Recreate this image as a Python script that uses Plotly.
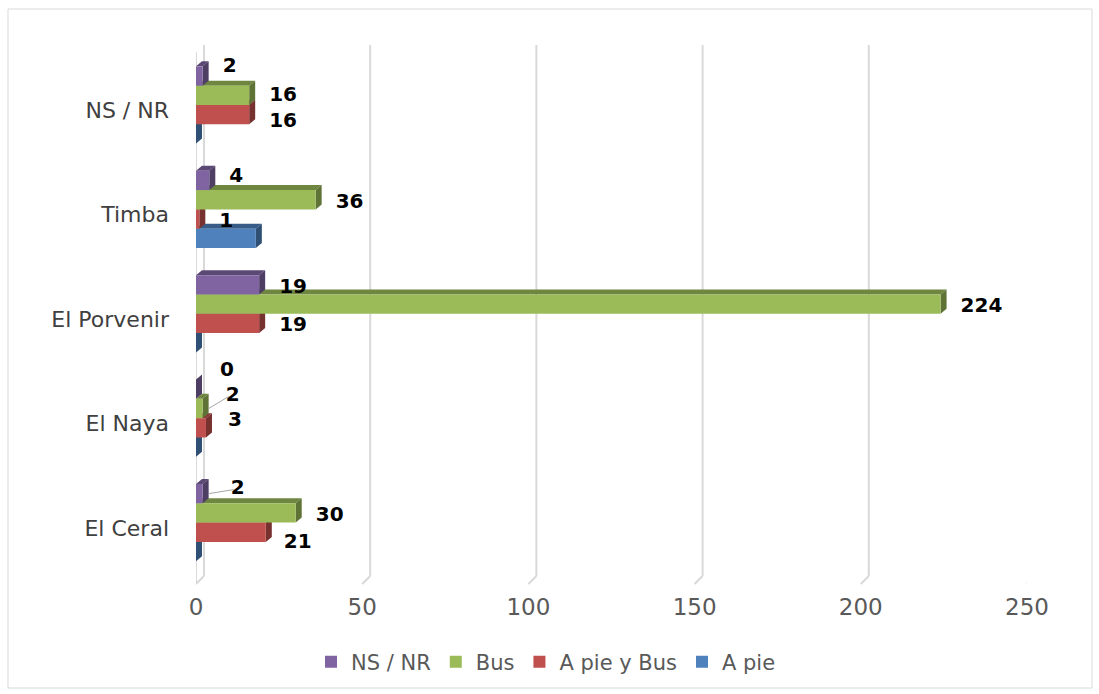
import plotly.graph_objects as go

# Survey data: transport mode by locality
categories = ["El Ceral", "El Naya", "El Porvenir", "Timba", "NS / NR"]
a_pie = [0, 0, 0, 18, 0]
a_pie_y_bus = [21, 3, 19, 1, 16]
bus = [30, 2, 224, 36, 16]
ns_nr = [2, 0, 19, 4, 2]
x_ticks = [0, 50, 100, 150, 200, 250]

# series listed bottom-to-top inside each group
series = [
    ("A pie", a_pie, "#4F81BD", False),
    ("A pie y Bus", a_pie_y_bus, "#C0504D", True),
    ("Bus", bus, "#9BBB59", True),
    ("NS / NR", ns_nr, "#8064A2", True),
]

# manual label nudges in pixels (dx right, dy up) to keep crowded labels apart
label_nudge = {
    ("NS / NR", "NS / NR"): (0, 12),
    ("Bus", "NS / NR"): (0, 2),
    ("A pie y Bus", "NS / NR"): (0, -4),
    ("NS / NR", "Timba"): (0, 6),
    ("NS / NR", "El Naya"): (4, 21),
    ("Bus", "El Naya"): (3, 16),
    ("A pie y Bus", "El Naya"): (2, 10),
    ("NS / NR", "El Ceral"): (8, 8),
    ("A pie y Bus", "El Ceral"): (-2, -8),
}
# labels that get a thin leader line back to their bar
leader_labels = [("Bus", "El Naya"), ("NS / NR", "El Ceral")]

W, H = 1099, 694
L, R, T, B = 196, 72, 58, 114
PW, PH = W - L - R, H - T - B
X_RANGE = [0, 250]
Y_RANGE = [-0.5, len(categories) - 0.5]
UX = PW / (X_RANGE[1] - X_RANGE[0])   # px per x unit
UY = PH / (Y_RANGE[1] - Y_RANGE[0])   # px per category

# depth of the pseudo-3D faces, in axis units
DX = 6 / UX
DY = 5 / UY
BAR_W = 0.185
SHIFT = 0.05
GRID_DX = 8 / UX          # back-wall offset of the gridlines
LABEL_GAP = 14 / UX       # gap between bar end and its value label
LABEL_DROP = 3 / UY       # labels sit slightly below the bar centre

FONT = "DejaVu Sans, Liberation Sans, Arial, sans-serif"


def shade(hex_color, f):
    h = hex_color.lstrip("#")
    r, g, b = (int(h[i:i + 2], 16) for i in (0, 2, 4))
    return "rgb({},{},{})".format(int(r * f), int(g * f), int(b * f))


def px_x(p):
    return (p - L) / PW


def px_y(p):
    return (H - B - p) / PH


fig = go.Figure()

# top and side faces (drawn beneath the front faces)
for k, (name, vals, color, _) in enumerate(series):
    off = SHIFT - 2 * BAR_W + k * BAR_W
    tx, ty, sx, sy = [], [], [], []
    for i, v in enumerate(vals):
        yb = i + off
        yt = yb + BAR_W
        tx += [0, v, v + DX, DX, 0, None]
        ty += [yt, yt, yt + DY, yt + DY, yt, None]
        sx += [v, v, v + DX, v + DX, v, None]
        sy += [yb, yt, yt + DY, yb + DY, yb, None]
    fig.add_trace(go.Scatter(x=tx, y=ty, mode="lines", fill="toself",
                             fillcolor=shade(color, 0.72), line=dict(width=0),
                             showlegend=False, hoverinfo="skip"))
    fig.add_trace(go.Scatter(x=sx, y=sy, mode="lines", fill="toself",
                             fillcolor=shade(color, 0.62), line=dict(width=0),
                             showlegend=False, hoverinfo="skip"))

# front faces
for k, (name, vals, color, _) in enumerate(series):
    off = SHIFT - 2 * BAR_W + k * BAR_W
    fig.add_trace(go.Bar(
        x=vals, y=list(range(len(categories))), orientation="h",
        width=BAR_W, offset=off, name=name,
        marker=dict(color=color, line=dict(width=0)),
        xaxis="x2", yaxis="y2",
    ))

# value labels
leader_shapes = []
for k, (name, vals, color, labelled) in enumerate(series):
    if not labelled:
        continue
    off = SHIFT - 2 * BAR_W + k * BAR_W
    lx, ly = [], []
    for i, v in enumerate(vals):
        ndx, ndy = label_nudge.get((name, categories[i]), (0, 0))
        cy = i + off + BAR_W / 2
        x = v + DX + LABEL_GAP + ndx / UX
        y = cy - LABEL_DROP + ndy / UY
        lx.append(x)
        ly.append(y)
        if (name, categories[i]) in leader_labels:
            leader_shapes.append(dict(
                type="line", xref="x", yref="y",
                x0=v + DX, y0=cy, x1=x + 3 / UX, y1=y - 1 / UY,
                line=dict(color="#A6A6A6", width=1)))
    fig.add_trace(go.Scatter(
        x=lx, y=ly, mode="text", text=[str(v) for v in vals],
        textposition="middle right",
        textfont=dict(family=FONT, size=20, color="#000000", weight="bold"),
        xaxis="x2", yaxis="y2", showlegend=False, hoverinfo="skip",
        cliponaxis=False,
    ))

# back-wall gridlines
grid_shapes = []
for t in x_ticks:
    grid_shapes.append(dict(type="line", layer="below", xref="x", yref="paper",
                            x0=t + GRID_DX, x1=t + GRID_DX,
                            y0=px_y(576), y1=px_y(45),
                            line=dict(color="#D9D9D9", width=2)))
    grid_shapes.append(dict(type="line", layer="below", xref="x", yref="paper",
                            x0=t + GRID_DX, x1=t, y0=px_y(576), y1=px_y(584),
                            line=dict(color="#D9D9D9", width=2)))

fig.update_layout(
    width=W, height=H,
    margin=dict(l=L, r=R, t=T, b=B),
    paper_bgcolor="white", plot_bgcolor="white",
    barmode="overlay",
    font=dict(family=FONT, size=20, color="#595959"),
    xaxis=dict(range=X_RANGE, tickvals=x_ticks, showgrid=False,
               zeroline=False, showline=False, ticks="",
               ticklabelstandoff=11,
               tickfont=dict(size=23, color="#595959")),
    yaxis=dict(range=Y_RANGE, tickvals=list(range(len(categories))),
               ticktext=categories, showgrid=False, zeroline=False,
               showline=False, ticks="", ticklabelstandoff=26,
               tickfont=dict(size=22, color="#404040")),
    xaxis2=dict(range=X_RANGE, overlaying="x", visible=False),
    yaxis2=dict(range=Y_RANGE, overlaying="y", visible=False),
    legend=dict(orientation="h", traceorder="reversed",
                x=px_x(546), xanchor="center", y=px_y(662), yanchor="middle",
                font=dict(size=21, color="#595959"), itemwidth=30),
    shapes=grid_shapes + leader_shapes + [
        dict(type="line", layer="below", xref="x", yref="paper",
             x0=0, x1=0, y0=px_y(584), y1=px_y(52),
             line=dict(color="#D9D9D9", width=2)),
        dict(type="rect", xref="paper", yref="paper",
             x0=px_x(8), x1=px_x(1092), y0=px_y(688), y1=px_y(9),
             line=dict(color="#D9D9D9", width=1)),
    ],
)

fig.write_html("out.html")
